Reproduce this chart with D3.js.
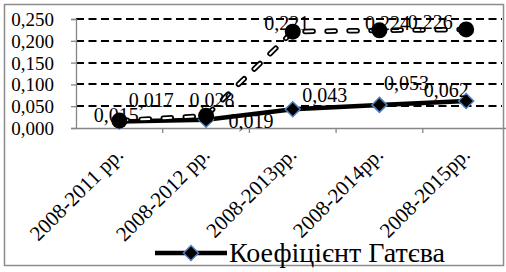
<!DOCTYPE html>
<html>
<head>
<meta charset="utf-8">
<script src="https://cdn.jsdelivr.net/npm/d3@7"></script>
<style>
  body { margin: 0; background: #fff; }
</style>
</head>
<body>
<div id="chart"></div>
<script>
const categories = ["2008-2011 рр.", "2008-2012 рр.", "2008-2013рр.", "2008-2014рр.", "2008-2015рр."];
const gatevValues = [0.015, 0.019, 0.043, 0.053, 0.062];
const otherValues = [0.017, 0.028, 0.221, 0.224, 0.226];
const yTicks = [0, 0.05, 0.1, 0.15, 0.2, 0.25];
const legendLabel = "Коефіцієнт Гатєва";

// label offsets (dx, dy) relative to each point, mimicking the original placement
const gatevLabelOffsets = [[-3, 1], [45, 8], [32, -7], [27, -15], [-20, -4]];
const otherLabelOffsets = [[32, -14], [6, -9], [-6, -2], [8, 0], [-36, 0]];

const width = 506;
const height = 272;
const serif = "'Liberation Serif', 'Times New Roman', serif";
const fmt = (v) => v.toFixed(3).replace(".", ",");

const svg = d3
  .select("#chart")
  .append("svg")
  .attr("width", width)
  .attr("height", height)
  .style("font-family", serif);

svg
  .append("rect")
  .attr("x", 4.5)
  .attr("y", 4.5)
  .attr("width", 499)
  .attr("height", 261)
  .attr("fill", "#fff")
  .attr("stroke", "#8c8c8c")
  .attr("stroke-width", 1.5);

const xScale = d3.scaleBand().domain(categories).range([76, 509.5]);
const yScale = d3.scaleLinear().domain([0, 0.25]).range([128, 19]);
const cx = (i) => xScale(categories[i]) + xScale.bandwidth() / 2;

// gridlines
svg
  .append("g")
  .selectAll("line")
  .data(yTicks.filter((t) => t > 0))
  .enter()
  .append("line")
  .attr("x1", 76)
  .attr("x2", 502)
  .attr("y1", (d) => Math.round(yScale(d)))
  .attr("y2", (d) => Math.round(yScale(d)))
  .attr("stroke", "#000")
  .attr("stroke-width", 2)
  .attr("stroke-dasharray", "8,4.5");

// y axis
const yAxis = d3.axisLeft(yScale).tickValues(yTicks).tickSize(5).tickFormat(fmt);
const yAxisGroup = svg
  .append("g")
  .attr("transform", "translate(76,0)")
  .call(yAxis)
  .attr("font-family", null)
  .attr("font-size", null);
yAxisGroup.select(".domain").attr("stroke", "#868686").attr("stroke-width", 1.3);
yAxisGroup.selectAll(".tick line").attr("stroke", "#868686").attr("stroke-width", 1.3);
yAxisGroup
  .selectAll(".tick text")
  .attr("x", -22)
  .attr("dy", "0.34em")
  .style("font-family", serif)
  .style("font-size", "19px")
  .attr("fill", "#000");

// x axis
const xAxis = d3.axisBottom(xScale).tickSize(0).tickFormat("");
const xAxisGroup = svg.append("g").attr("transform", "translate(0,128)").call(xAxis);
xAxisGroup.select(".domain").attr("stroke", "#868686").attr("stroke-width", 1.3);
xAxisGroup
  .selectAll(".sep")
  .data(categories.slice(1))
  .enter()
  .append("line")
  .attr("x1", (d) => xScale(d))
  .attr("x2", (d) => xScale(d))
  .attr("y1", 0)
  .attr("y2", 5)
  .attr("stroke", "#868686")
  .attr("stroke-width", 1.3);

svg
  .append("g")
  .selectAll("text")
  .data(categories)
  .enter()
  .append("text")
  .attr("transform", (d, i) => `translate(${cx(i) + 5},156) rotate(-45)`)
  .attr("text-anchor", "end")
  .style("font-family", serif)
  .style("font-size", "21px")
  .text((d) => d);

const lineGen = d3
  .line()
  .x((d, i) => cx(i))
  .y((d) => yScale(d));

// Gatev coefficient series
svg
  .append("path")
  .datum(gatevValues)
  .attr("d", lineGen)
  .attr("fill", "none")
  .attr("stroke", "#000")
  .attr("stroke-width", 4.5)
  .attr("stroke-linejoin", "round");

const diamond = (r) => `M0,${-r}L${r},0L0,${r}L${-r},0Z`;

svg
  .append("g")
  .selectAll("path")
  .data(gatevValues)
  .enter()
  .append("path")
  .attr("d", diamond(7.5))
  .attr("transform", (d, i) => `translate(${cx(i)},${yScale(d)})`)
  .attr("fill", "#000")
  .attr("stroke", "#4f81bd")
  .attr("stroke-width", 1.5);

// second series: outlined dashed line with circles
const otherPath = svg.append("g");
otherPath
  .append("path")
  .datum(otherValues)
  .attr("d", lineGen)
  .attr("fill", "none")
  .attr("stroke", "#000")
  .attr("stroke-width", 5.5)
  .attr("stroke-linecap", "round")
  .attr("stroke-dasharray", "8,14");
otherPath
  .append("path")
  .datum(otherValues)
  .attr("d", lineGen)
  .attr("fill", "none")
  .attr("stroke", "#fff")
  .attr("stroke-width", 2)
  .attr("stroke-linecap", "round")
  .attr("stroke-dasharray", "8,14");

svg
  .append("g")
  .selectAll("circle")
  .data(otherValues)
  .enter()
  .append("circle")
  .attr("cx", (d, i) => cx(i))
  .attr("cy", (d) => yScale(d))
  .attr("r", 8)
  .attr("fill", "#000");

// data labels
function addLabels(values, offsets) {
  svg
    .append("g")
    .selectAll("text")
    .data(values)
    .enter()
    .append("text")
    .attr("x", (d, i) => cx(i) + offsets[i][0])
    .attr("y", (d, i) => yScale(d) + offsets[i][1])
    .attr("text-anchor", "middle")
    .style("font-family", serif)
    .style("font-size", "20px")
    .text(fmt);
}
addLabels(gatevValues, gatevLabelOffsets);
addLabels(otherValues, otherLabelOffsets);

// legend
const legend = svg.append("g").attr("transform", "translate(155,253)");
legend
  .append("line")
  .attr("x1", 0)
  .attr("x2", 72)
  .attr("stroke", "#000")
  .attr("stroke-width", 4.5);
legend
  .append("path")
  .attr("d", diamond(7.5))
  .attr("transform", "translate(36,0)")
  .attr("fill", "#000")
  .attr("stroke", "#4f81bd")
  .attr("stroke-width", 1.5);
legend
  .append("text")
  .attr("x", 74)
  .attr("y", 9)
  .style("font-family", serif)
  .style("font-size", "28px")
  .text(legendLabel);
</script>
</body>
</html>
